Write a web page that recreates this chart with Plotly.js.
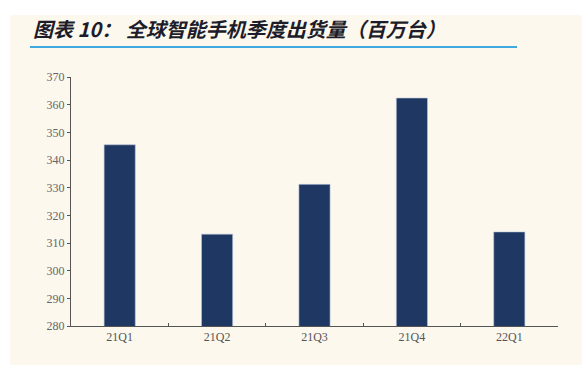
<!DOCTYPE html>
<html><head><meta charset="utf-8">
<script src="https://cdn.plot.ly/plotly-3.0.1.min.js"></script>
<style>html,body{margin:0;padding:0;background:#fff;}#c{width:582px;height:372px;}</style>
</head><body><div id="c"></div>
<script>
const titleText = "图表 10： 全球智能手机季度出货量（百万台）";
const quarters = ["21Q1", "21Q2", "21Q3", "21Q4", "22Q1"];
const shipments = [345.5, 313.2, 331.2, 362.4, 314.0];
const yTicks = [280, 290, 300, 310, 320, 330, 340, 350, 360, 370];

// plot area in pixels
const L = 71, R = 558, T = 77, B = 326;
const px = x => (x - L) / (R - L);
const py = y => (B - y) / (B - T);

const data = [{
  type: "bar",
  x: quarters,
  y: shipments,
  marker: {color: "#1f3763", line: {color: "#b9c6dc", width: 0.6}},
  hoverinfo: "x+y"
}];

const layout = {
  width: 582, height: 372,
  margin: {l: L, r: 582 - R, t: T, b: 372 - B},
  paper_bgcolor: "#ffffff",
  plot_bgcolor: "rgba(0,0,0,0)",
  bargap: 0.68,
  showlegend: false,
  font: {family: "Liberation Serif, DejaVu Serif, serif", color: "#666"},
  xaxis: {
    type: "category",
    showline: true, linecolor: "#555", linewidth: 1,
    ticks: "inside", ticklen: 3, tickcolor: "#555",
    tickson: "boundaries",
    showgrid: false, zeroline: false,
    tickfont: {size: 12, color: "#555", family: "Liberation Serif, serif"}
  },
  yaxis: {
    range: [280, 370],
    tickvals: yTicks,
    ticktext: yTicks.map(String),
    showline: true, linecolor: "#555", linewidth: 1,
    ticks: "outside", ticklen: 3, tickcolor: "#555",
    showgrid: false, zeroline: false,
    tickfont: {size: 12, color: "#666", family: "Liberation Serif, serif"}
  },
  shapes: [
    {type: "rect", xref: "paper", yref: "paper", layer: "below",
     x0: px(10), x1: px(590), y0: py(365), y1: py(15),
     fillcolor: "#fcf8ee", line: {width: 0}},
    {type: "line", xref: "paper", yref: "paper",
     x0: px(30), x1: px(517), y0: py(47), y1: py(47),
     line: {color: "#3ea8e0", width: 2}}
  ],
  annotations: [{
    text: "<b><i>" + titleText + "</i></b>",
    xref: "paper", yref: "paper",
    x: px(31), y: py(28), xanchor: "left", yanchor: "middle",
    showarrow: false,
    font: {size: 20, color: "#1c1c2a", family: "Noto Sans CJK SC, sans-serif"}
  }]
};

Plotly.newPlot("c", data, layout, {displayModeBar: false, staticPlot: true});
</script></body></html>
